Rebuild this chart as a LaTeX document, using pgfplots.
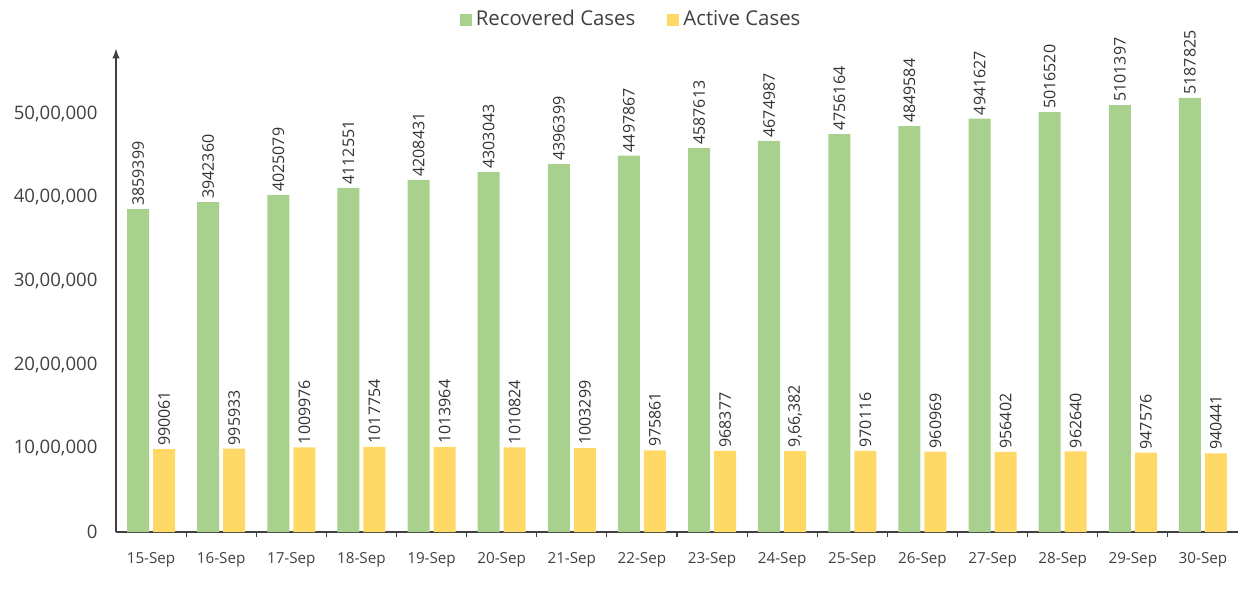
\documentclass[border=0pt]{standalone}
\usepackage{pgfplots}
\pgfplotsset{compat=1.18}
\usepackage{pgfplotstable}
\usepackage{fontspec}
\setmainfont{Open Sans}
\definecolor{recg}{HTML}{A9D18E}
\definecolor{acty}{HTML}{FFD966}
\definecolor{axgray}{HTML}{404040}
\definecolor{txt}{HTML}{404040}

\pgfplotstableread{
x y lab
0 3859399 3859399
1 3942360 3942360
2 4025079 4025079
3 4112551 4112551
4 4208431 4208431
5 4303043 4303043
6 4396399 4396399
7 4497867 4497867
8 4587613 4587613
9 4674987 4674987
10 4756164 4756164
11 4849584 4849584
12 4941627 4941627
13 5016520 5016520
14 5101397 5101397
15 5187825 5187825
}\recoveredtab

\pgfplotstableread{
x y lab
0 990061 990061
1 995933 995933
2 1009976 1009976
3 1017754 1017754
4 1013964 1013964
5 1010824 1010824
6 1003299 1003299
7 975861 975861
8 968377 968377
9 966382 9,66,382
10 970116 970116
11 960969 960969
12 956402 956402
13 962640 962640
14 947576 947576
15 940441 940441
}\activetab

\begin{document}
\begin{tikzpicture}
\useasboundingbox (-58pt,-29pt) rectangle (562pt,266pt);
\begin{axis}[
  scale only axis,
  width=561pt, height=241.7pt,
  xmin=-0.5, xmax=15.5,
  ymin=0, ymax=5777000,
  axis x line=bottom,
  axis y line=left,
  x axis line style={-, axgray, line width=0.7pt},
  y axis line style={-latex, axgray, line width=0.7pt},
  xtick={0,...,15},
  xticklabels={15-Sep,16-Sep,17-Sep,18-Sep,19-Sep,20-Sep,21-Sep,22-Sep,23-Sep,24-Sep,25-Sep,26-Sep,27-Sep,28-Sep,29-Sep,30-Sep},
  minor xtick={0.5,1.5,...,14.5},
  major x tick style={draw=none},
  minor x tick style={axgray, line width=0.6pt},
  minor tick length=2.5pt,
  tick align=outside,
  ytick={0,1000000,2000000,3000000,4000000,5000000},
  yticklabels={0,{10,00,000},{20,00,000},{30,00,000},{40,00,000},{50,00,000}},
  ytick style={draw=none},
  scaled y ticks=false,
  xticklabel style={font=\fontsize{7.6}{9}\selectfont, text=txt, yshift=-2.5pt},
  yticklabel style={font=\fontsize{9.3}{11}\selectfont, text=txt, xshift=-1.5pt},
  legend style={at={(axis description cs:0.46,1.06)}, anchor=center, draw=none, fill=none,
    legend columns=2, font=\fontsize{10.2}{12}\selectfont, text=txt,
    /tikz/every even column/.append style={column sep=14pt}},
  legend image code/.code={\fill[#1] (0pt,-3pt) rectangle (6pt,3pt);},
  nodes near coords={\pgfplotspointmeta},
  point meta=explicit symbolic,
]
\addplot[ybar, bar width=11pt, bar shift=-6.5pt, fill=recg, draw=none,
  every node near coord/.style={xshift=-6.5pt, rotate=90, anchor=west, inner sep=1.5pt,
    font=\fontsize{8}{9}\selectfont, text=black!80}]
  table[x=x, y=y, meta=lab] {\recoveredtab};
\addlegendentry{Recovered Cases}
\addplot[ybar, bar width=11pt, bar shift=6.5pt, fill=acty, draw=none,
  every node near coord/.style={xshift=6.5pt, rotate=90, anchor=west, inner sep=1.5pt,
    font=\fontsize{8}{9}\selectfont, text=black!80}]
  table[x=x, y=y, meta=lab] {\activetab};
\addlegendentry{Active Cases}
\end{axis}
\end{tikzpicture}
\end{document}
